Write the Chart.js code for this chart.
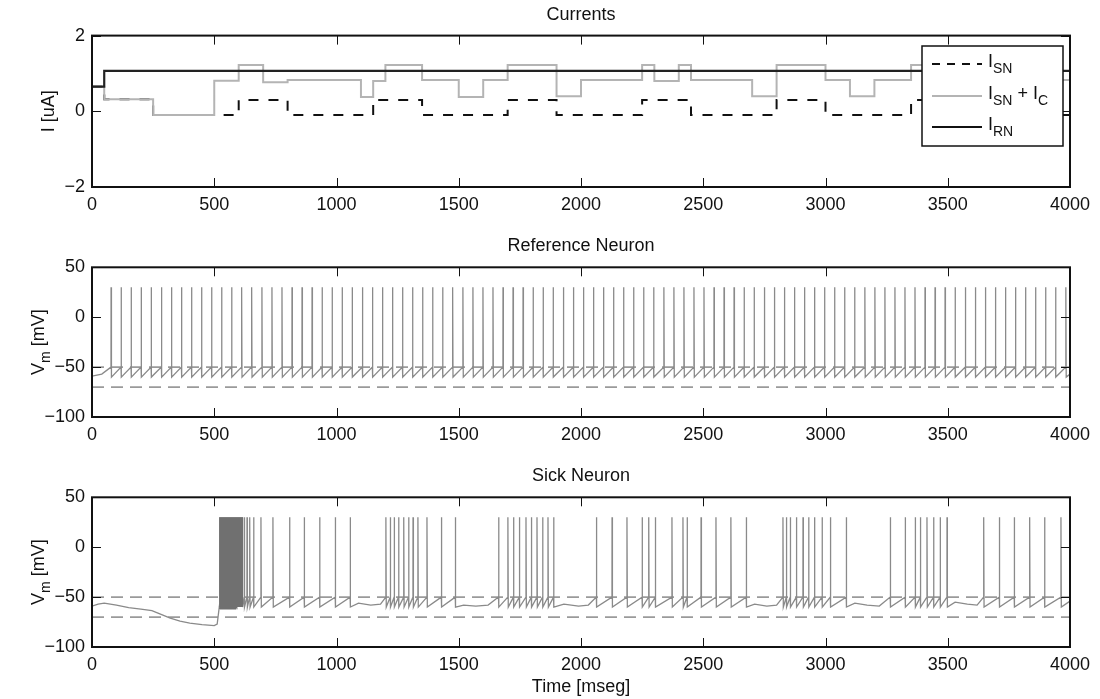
<!DOCTYPE html>
<html>
<head>
<meta charset="utf-8">
<script src="https://cdn.jsdelivr.net/npm/chart.js@4.4.0/dist/chart.umd.min.js"></script>
<style>
  html, body { margin: 0; padding: 0; background: #fff; }
  #wrap { position: relative; width: 1100px; height: 699px; }
  .panel { position: absolute; left: 0; }
</style>
</head>
<body>
<div id="wrap">
  <canvas class="panel" id="c1" width="1100" height="230" style="top:0"></canvas>
  <canvas class="panel" id="c2" width="1100" height="230" style="top:230px"></canvas>
  <canvas class="panel" id="c3" width="1100" height="239" style="top:460px"></canvas>
</div>
<script>
//? axes
var timeTicks = [0, 500, 1000, 1500, 2000, 2500, 3000, 3500, 4000];
var currentTicks = [-2, 0, 2];
var voltageTicks = [-100, -50, 0, 50];

//? currents, value holds from each time until the next one
var rnTimes = [0, 50, 4000];
var rnValues = [0.65, 1.07, 1.07];
var snTimes = [0, 50, 250, 600, 800, 1150, 1350, 1700, 1900, 2250, 2450, 2800, 3000, 3350, 3550, 4000];
var snValues = [0.65, 0.32, -0.1, 0.3, -0.1, 0.3, -0.1, 0.3, -0.1, 0.3, -0.1, 0.3, -0.1, 0.3, -0.1, -0.1];
var sncTimes = [0, 50, 250, 500, 600, 700, 800, 1100, 1150, 1200, 1350, 1500, 1600, 1700, 1900, 2000, 2250, 2300, 2400, 2450, 2700, 2800, 3000, 3100, 3200, 3350, 3550, 4000];
var sncValues = [0.65, 0.32, -0.1, 0.81, 1.22, 0.77, 0.83, 0.38, 0.8, 1.22, 0.83, 0.38, 0.83, 1.22, 0.4, 0.83, 1.22, 0.8, 1.22, 0.83, 0.4, 1.22, 0.83, 0.4, 0.83, 1.22, 0.83, 0.83];

//? reference neuron, spike times [ms]
var refSpikes = [78, 119, 160, 201, 242, 284, 325, 366, 407, 448, 489, 530, 571, 612, 653, 695,
  736, 777, 818, 859, 900, 941, 982, 1023, 1064, 1106, 1147, 1188, 1229, 1270, 1311, 1352,
  1393, 1434, 1475, 1517, 1558, 1599, 1640, 1681, 1722, 1763, 1804, 1845, 1886, 1928, 1969,
  2010, 2051, 2092, 2133, 2174, 2215, 2256, 2297, 2339, 2380, 2421, 2462, 2503, 2544, 2585,
  2626, 2667, 2708, 2750, 2791, 2832, 2873, 2914, 2955, 2996, 3037, 3078, 3119, 3161, 3202,
  3243, 3284, 3325, 3366, 3407, 3448, 3489, 3530, 3572, 3613, 3654, 3695, 3736, 3777, 3818,
  3859, 3900, 3941, 3983];
var refRest = [[0, -59], [40, -57], [4000, -57]];

//? sick neuron
var sickBurst = [521, 525, 529, 533, 537, 541, 545, 549, 553, 557, 561, 565, 569, 573, 577,
  581, 585, 589, 593, 597, 601, 605, 609, 613];
var sickSpikes = [623, 634, 645, 661, 691, 740, 808, 868, 931, 995, 1056,
  1202, 1220, 1236, 1254, 1275, 1295, 1313, 1333, 1370, 1429, 1486,
  1663, 1701, 1724, 1748, 1775, 1797, 1820, 1843, 1865, 1888,
  2063, 2127, 2188, 2250, 2277, 2304, 2372, 2417, 2434, 2491, 2552, 2613, 2676,
  2826, 2840, 2856, 2881, 2908, 2931, 2955, 2986, 3020, 3085,
  3265, 3326, 3367, 3388, 3415, 3442, 3469, 3497,
  3647, 3711, 3772, 3835, 3896, 3963];
var sickRest = [[0, -59], [25, -57], [50, -56], [100, -58], [150, -60.5], [200, -62], [245, -63.5],
  [280, -67], [320, -71], [360, -74], [400, -76], [450, -77.5], [500, -78.5], [512, -77],
  [1090, -56], [1140, -58], [1180, -57], [1520, -58], [1570, -59], [1620, -58],
  [1930, -57], [1990, -59], [2030, -58], [2710, -57], [2760, -59], [2800, -58],
  [3120, -56], [3170, -58], [3220, -59], [3530, -55], [3580, -57], [3620, -58], [4000, -54]];

var thresholds = [-50, -70];
var spikePeak = 30, spikeFire = -50, spikeReset = -60;

var legendLabels = [
  [['I', 0], ['SN', 1]],
  [['I', 0], ['SN', 1], [' + I', 0], ['C', 1]],
  [['I', 0], ['RN', 1]]
];

Chart.defaults.font.family = '"Liberation Sans", Arial, sans-serif';
Chart.defaults.color = '#111';

function steps(times, values) {
  return times.map(function (t, i) { return { x: t, y: values[i] }; });
}

function trace(rest, spikes, burst) {
  var pts = rest.map(function (p) { return { x: p[0], y: p[1] }; });
  spikes.forEach(function (t) {
    pts.push({ x: t - 0.3, y: spikeFire }, { x: t, y: spikePeak }, { x: t + 1.5, y: spikeReset });
  });
  (burst || []).forEach(function (t) {
    pts.push({ x: t, y: -59 }, { x: t + 1, y: spikePeak }, { x: t + 2.5, y: spikeReset });
  });
  pts.sort(function (a, b) { return a.x - b.x; });
  return pts;
}

function hLine(v) {
  return [{ x: timeTicks[0], y: v }, { x: timeTicks[timeTicks.length - 1], y: v }];
}

function drawParts(ctx, parts, x, y) {
  parts.forEach(function (p) {
    ctx.font = (p[1] ? '14px' : '18px') + ' "Liberation Sans", Arial, sans-serif';
    ctx.fillText(p[0], x, p[1] ? y + 6 : y);
    x += ctx.measureText(p[0]).width;
  });
  return x;
}

function partsWidth(ctx, parts) {
  var w = 0;
  parts.forEach(function (p) {
    ctx.font = (p[1] ? '14px' : '18px') + ' "Liberation Sans", Arial, sans-serif';
    w += ctx.measureText(p[0]).width;
  });
  return w;
}

function plainLabel(v) {
  return String(v).replace('-', '\u2212');
}

// box round the plot and inward ticks on all sides
var framePlugin = {
  id: 'frame',
  afterDatasetsDraw: function (chart) {
    var ctx = chart.ctx, a = chart.chartArea, xs = chart.scales.x, ys = chart.scales.y;
    ctx.save();
    ctx.strokeStyle = '#111';
    ctx.lineWidth = 1;
    ctx.beginPath();
    xs.ticks.forEach(function (t) {
      var px = Math.round(xs.getPixelForValue(t.value)) + 0.5;
      ctx.moveTo(px, a.bottom); ctx.lineTo(px, a.bottom - 9);
      ctx.moveTo(px, a.top); ctx.lineTo(px, a.top + 9);
    });
    ys.ticks.forEach(function (t) {
      var py = Math.round(ys.getPixelForValue(t.value)) + 0.5;
      ctx.moveTo(a.left, py); ctx.lineTo(a.left + 9, py);
      ctx.moveTo(a.right, py); ctx.lineTo(a.right - 9, py);
    });
    ctx.stroke();
    ctx.lineWidth = 2;
    ctx.strokeRect(a.left, a.top, a.right - a.left, a.bottom - a.top);
    ctx.restore();
  }
};

// y axis label with subscripts
var yLabelPlugin = {
  id: 'yLabel',
  afterDraw: function (chart, args, opts) {
    var ctx = chart.ctx, a = chart.chartArea;
    ctx.save();
    ctx.fillStyle = '#111';
    ctx.textBaseline = 'alphabetic';
    ctx.translate(opts.x, (a.top + a.bottom) / 2);
    ctx.rotate(-Math.PI / 2);
    var w = partsWidth(ctx, opts.parts);
    drawParts(ctx, opts.parts, -w / 2, 6);
    ctx.restore();
  }
};

// legend of the currents panel
var legendPlugin = {
  id: 'currLegend',
  afterDraw: function (chart) {
    var ctx = chart.ctx;
    var styles = [
      { color: '#111', dash: [8, 7] },
      { color: '#b4b4b4', dash: [] },
      { color: '#111', dash: [] }
    ];
    var rows = [64, 96, 127];
    ctx.save();
    ctx.fillStyle = '#fff';
    ctx.fillRect(922, 46, 141, 100);
    ctx.strokeStyle = '#111';
    ctx.lineWidth = 1.5;
    ctx.strokeRect(922, 46, 141, 100);
    legendLabels.forEach(function (parts, i) {
      ctx.beginPath();
      ctx.setLineDash(styles[i].dash);
      ctx.strokeStyle = styles[i].color;
      ctx.lineWidth = 2;
      ctx.moveTo(932, rows[i]);
      ctx.lineTo(982, rows[i]);
      ctx.stroke();
      ctx.setLineDash([]);
      ctx.fillStyle = '#111';
      drawParts(ctx, parts, 988, rows[i] + 3);
    });
    ctx.restore();
  }
};

function makeChart(id, cfg) {
  return new Chart(document.getElementById(id), {
    type: 'line',
    data: { datasets: cfg.datasets },
    options: {
      responsive: false,
      animation: false,
      events: [],
      layout: { padding: { top: cfg.top, right: 30, left: 0, bottom: 0 } },
      elements: { point: { radius: 0 }, line: { tension: 0 } },
      plugins: {
        legend: { display: false },
        tooltip: { enabled: false },
        title: {
          display: true, text: cfg.title, fullSize: false, color: '#111',
          font: { size: 18, weight: 'normal' }, padding: { top: 0, bottom: 10 }
        },
        yLabel: { parts: cfg.yParts, x: cfg.yLabelX }
      },
      scales: {
        x: {
          type: 'linear', min: 0, max: 4000,
          grid: { display: false, drawTicks: false },
          border: { display: false },
          afterBuildTicks: function (s) { s.ticks = timeTicks.map(function (v) { return { value: v }; }); },
          afterFit: function (s) { s.height = cfg.xHeight; },
          ticks: { padding: 7, color: '#111', font: { size: 18 }, maxRotation: 0, autoSkip: false, callback: plainLabel },
          title: cfg.xTitle
            ? { display: true, text: cfg.xTitle, color: '#111', font: { size: 18 }, padding: { top: 0, bottom: 1 } }
            : { display: false }
        },
        y: {
          type: 'linear', min: cfg.yTicks[0], max: cfg.yTicks[cfg.yTicks.length - 1],
          grid: { display: false, drawTicks: false },
          border: { display: false },
          afterBuildTicks: function (s) { s.ticks = cfg.yTicks.map(function (v) { return { value: v }; }); },
          afterFit: function (s) { s.width = 92; },
          ticks: { padding: 7, color: '#111', font: { size: 18 }, autoSkip: false, callback: plainLabel }
        }
      }
    },
    plugins: [framePlugin, yLabelPlugin].concat(cfg.extra || [])
  });
}

//? currents
makeChart('c1', {
  title: 'Currents', top: 4, xHeight: 43, yTicks: currentTicks, yLabelX: 48,
  yParts: [['I [uA]', 0]],
  extra: [legendPlugin],
  datasets: [
    { data: steps(rnTimes, rnValues), stepped: true, borderColor: '#222', borderWidth: 2.2 },
    { data: steps(sncTimes, sncValues), stepped: true, borderColor: '#b4b4b4', borderWidth: 2 },
    { data: steps(snTimes, snValues), stepped: true, borderColor: '#111', borderWidth: 2, borderDash: [10, 10] }
  ]
});

//? reference neuron
makeChart('c2', {
  title: 'Reference Neuron', top: 5.7, xHeight: 43, yTicks: voltageTicks, yLabelX: 38,
  yParts: [['V', 0], ['m', 1], [' [mV]', 0]],
  datasets: [
    { data: trace(refRest, refSpikes), borderColor: '#8a8a8a', borderWidth: 1.3 },
    { data: hLine(thresholds[0]), borderColor: '#9a9a9a', borderWidth: 1.8, borderDash: [12, 7] },
    { data: hLine(thresholds[1]), borderColor: '#9a9a9a', borderWidth: 1.8, borderDash: [12, 7] }
  ]
});

//? sick neuron
makeChart('c3', {
  title: 'Sick Neuron', top: 5.7, xHeight: 52, yTicks: voltageTicks, yLabelX: 38,
  yParts: [['V', 0], ['m', 1], [' [mV]', 0]],
  xTitle: 'Time [mseg]',
  datasets: [
    { data: trace([], [], sickBurst), borderColor: '#707070', borderWidth: 1.3 },
    { data: trace(sickRest, sickSpikes, sickBurst), borderColor: '#8a8a8a', borderWidth: 1.3 },
    { data: hLine(thresholds[0]), borderColor: '#9a9a9a', borderWidth: 1.8, borderDash: [12, 7] },
    { data: hLine(thresholds[1]), borderColor: '#9a9a9a', borderWidth: 1.8, borderDash: [12, 7] }
  ]
});
</script>
</body>
</html>
